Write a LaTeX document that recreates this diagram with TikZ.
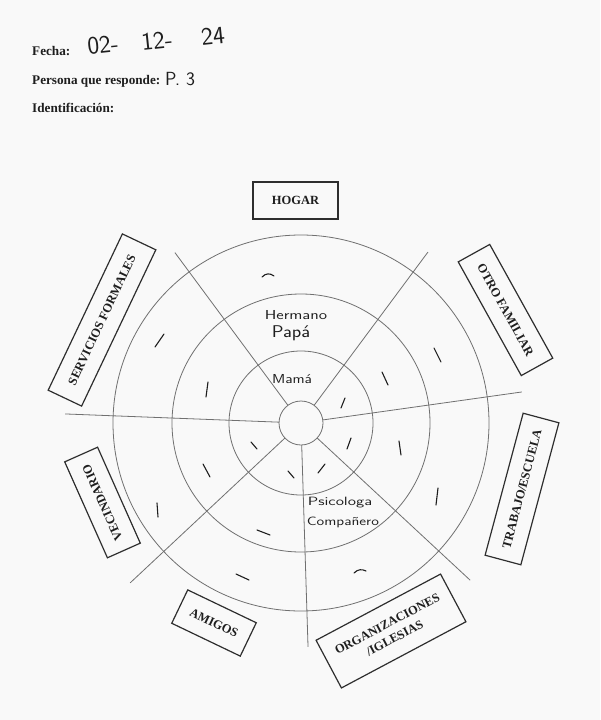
\documentclass[tikz,border=0pt]{standalone}
\usepackage{fontspec}
\setmainfont{Liberation Serif}
\definecolor{paper}{HTML}{F9F9F9}
\definecolor{ring}{HTML}{707070}
\definecolor{boxline}{HTML}{2E2E2E}
\definecolor{ink}{HTML}{1E1E1E}
\begin{document}
\begin{tikzpicture}[x=1pt,y=-1pt,
  ringline/.style={draw=ring,line width=0.8pt},
  spoke/.style={draw=ring,line width=0.8pt},
  sector/.style={draw=boxline,line width=1.2pt,text=ink,font=\fontsize{12.5}{16}\selectfont\bfseries,inner sep=0pt,align=center},
  head/.style={anchor=base west,text=ink,font=\fontsize{13.2}{15}\selectfont\bfseries,inner sep=0pt},
  hand/.style={text=ink,font=\sffamily\fontsize{13}{15}\selectfont,inner sep=0pt},
  penmark/.style={draw=ink,line width=1.1pt,line cap=round}]
\fill[paper] (0,0) rectangle (600,720);
\path[use as bounding box] (0,0) rectangle (600,720);

% header
\node[head] (fecha) at (32,55) {Fecha:};
\node[head] (persona) at (32,84) {Persona que responde:};
\node[head] (ident) at (32,112) {Identificación:};
\node[hand,font=\sffamily\fontsize{25}{27}\selectfont,rotate=6] (d1) at (103,45) {02-};
\node[hand,font=\sffamily\fontsize{25}{27}\selectfont,rotate=6] (d2) at (157,41) {12-};
\node[hand,font=\sffamily\fontsize{25}{27}\selectfont,rotate=6] (d3) at (213,36) {24};
\node[hand,font=\sffamily\fontsize{19}{21}\selectfont,anchor=west] (p3) at (165,79) {P. 3};

% rings
\coordinate (c) at (301,423);
\draw[ringline] (c) circle[radius=22];
\draw[ringline] (c) circle[radius=72];
\draw[ringline] (c) circle[radius=129];
\draw[ringline] (c) circle[radius=188];

% spokes (image-space angles)
\foreach \a/\l in {-126.5/212, -53.4/213, -177.8/236, -8/223, 136.9/234, 88.2/224, 42.9/231}
  \draw[spoke] ([shift={(\a:22)}]c) -- ([shift={(\a:\l)}]c);

% sector boxes
\node[sector,minimum width=85pt,minimum height=37pt] (hogar) at (295.5,200.5) {HOGAR};
\node[sector,minimum width=173pt,minimum height=37pt,rotate=64.6] (serv) at (102,320) {SERVICIOS FORMALES};
\node[sector,minimum width=130pt,minimum height=36pt,rotate=-61] (otro) at (505.5,310) {OTRO FAMILIAR};
\node[sector,minimum width=147pt,minimum height=37pt,rotate=75] (trab) at (522,489) {TRABAJO/ESCUELA};
\node[sector,minimum width=105pt,minimum height=36pt,rotate=114] (vec) at (102.5,502.5) {VECINDARIO};
\node[sector,minimum width=76pt,minimum height=37pt,rotate=-25.6] (amig) at (214,623) {AMIGOS};
\node[sector,minimum width=141pt,minimum height=54pt,rotate=28] (org) at (391,631) {ORGANIZACIONES\\/IGLESIAS};

% handwritten names
\node[hand,font=\sffamily\fontsize{13}{15}\selectfont,xscale=1.3] (herm) at (296,315) {Hermano};
\node[hand,font=\sffamily\fontsize{17}{19}\selectfont,xscale=1.15] (papa) at (291,333) {Papá};
\node[hand,font=\sffamily\fontsize{13}{15}\selectfont,xscale=1.2] (mama) at (292,379) {Mamá};
\node[hand,font=\sffamily\fontsize{12}{14}\selectfont,xscale=1.4] (psico) at (340,503) {Psicologa};
\node[hand,font=\sffamily\fontsize{12}{14}\selectfont,xscale=1.3] (comp) at (343,522) {Compañero};

% handwritten marks
\draw[penmark] (262,277) .. controls (266,273) and (270,273) .. (274,276);
\draw[penmark] (155,347) -- (164,334);
\draw[penmark] (206,397) -- (208,382);
\draw[penmark] (251,442) -- (257,449);
\draw[penmark] (203,464) -- (210,477);
\draw[penmark] (157,503) -- (158,517);
\draw[penmark] (288,471) -- (294,478);
\draw[penmark] (257,530) -- (270,535);
\draw[penmark] (236,574) -- (249,580);
\draw[penmark] (434,348) -- (441,362);
\draw[penmark] (382,372) -- (388,385);
\draw[penmark] (341,408) -- (345,398);
\draw[penmark] (347,449) -- (351,438);
\draw[penmark] (399,441) -- (401,455);
\draw[penmark] (318,473) -- (325,464);
\draw[penmark] (436,505) -- (438,488);
\draw[penmark] (354,573) .. controls (358,569) and (362,569) .. (366,571);
\end{tikzpicture}
\end{document}
